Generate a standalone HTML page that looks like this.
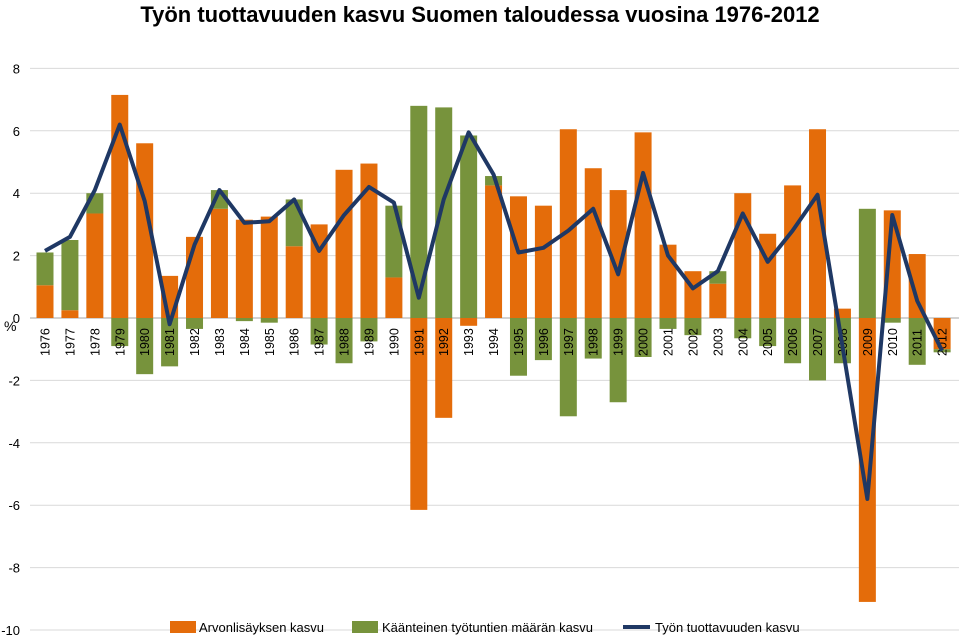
<!DOCTYPE html>
<html><head><meta charset="utf-8"><style>
body{margin:0;background:#fff;width:959px;height:636px;overflow:hidden;font-family:"Liberation Sans",sans-serif}
</style></head><body>
<svg id="c" width="959" height="636" xmlns="http://www.w3.org/2000/svg">
<text x="480" y="22" text-anchor="middle" font-size="22" font-weight="bold" fill="#000">Työn tuottavuuden kasvu Suomen taloudessa vuosina 1976-2012</text>
<g id="grid"></g><g id="bars"></g><g id="lbl"></g><g id="ln"></g>
<text x="4" y="331" font-size="14">%</text>
<g>
<rect x="170" y="621" width="26" height="12" fill="#E46C0A"/>
<text x="199" y="632" font-size="13">Arvonlisäyksen kasvu</text>
<rect x="352" y="621" width="26" height="12" fill="#77933C"/>
<text x="382" y="632" font-size="13">Käänteinen työtuntien määrän kasvu</text>
<line x1="623" y1="627" x2="650" y2="627" stroke="#1F3864" stroke-width="4"/>
<text x="655" y="632" font-size="13">Työn tuottavuuden kasvu</text>
</g>
</svg>
<script>
const years=[1976,1977,1978,1979,1980,1981,1982,1983,1984,1985,1986,1987,1988,1989,1990,1991,1992,1993,1994,1995,1996,1997,1998,1999,2000,2001,2002,2003,2004,2005,2006,2007,2008,2009,2010,2011,2012];
const valueAdded=[1.05,0.25,3.35,7.15,5.6,1.35,2.6,3.5,3.15,3.25,2.3,3.0,4.75,4.95,1.3,-6.15,-3.2,-0.25,4.25,3.9,3.6,6.05,4.8,4.1,5.95,2.35,1.5,1.1,4.0,2.7,4.25,6.05,0.3,-9.1,3.45,2.05,-1.0];
const hours=[1.05,2.25,0.65,-0.9,-1.8,-1.55,-0.35,0.6,-0.1,-0.15,1.5,-0.85,-1.45,-0.75,2.3,6.8,6.75,5.85,0.3,-1.85,-1.35,-3.15,-1.3,-2.7,-1.25,-0.35,-0.55,0.4,-0.65,-0.9,-1.45,-2.0,-1.45,3.5,-0.15,-1.5,-0.1];
const productivity=[2.15,2.6,4.1,6.2,3.75,-0.2,2.35,4.1,3.05,3.1,3.8,2.15,3.3,4.2,3.7,0.65,3.8,5.95,4.6,2.1,2.25,2.8,3.5,1.4,4.65,2.0,0.95,1.5,3.35,1.8,2.8,3.95,-0.9,-5.8,3.3,0.55,-1.05];
const yTicks=[8,6,4,2,0,-2,-4,-6,-8,-10];
const NS="http://www.w3.org/2000/svg";
const y=v=>318-v*31.2;
const x=i=>45+i*24.92;
const bw=17;
function mk(p,t,a){const e=document.createElementNS(NS,t);for(const k in a)e.setAttribute(k,a[k]);document.getElementById(p).appendChild(e);return e;}
yTicks.forEach(t=>{
 const g=mk('grid','line',{x1:30,x2:959,y1:y(t),y2:y(t),stroke:t===0?'#a6a6a6':'#d9d9d9','stroke-width':1});
 
 
 const tx=mk('grid','text',{x:20,y:y(t)+5,'text-anchor':'end','font-size':13});
 tx.textContent=t;
 
 
});
years.forEach((yr,i)=>{
 let pos=0,neg=0;
 [[valueAdded[i],'#E46C0A','bar-value-added'],[hours[i],'#77933C','bar-hours']].forEach(([v,c,n])=>{
  let a,b;
  if(v>=0){a=pos;b=pos+v;pos=b;}else{a=neg;b=neg+v;neg=b;}
  const r=mk('bars','rect',{x:x(i)-bw/2,width:bw,y:Math.min(y(a),y(b)),height:Math.abs(y(a)-y(b)),fill:c});
  
  
 });
 const t=mk('lbl','text',{transform:`translate(${x(i)+4.5},356) rotate(-90)`,'font-size':12.5});
 t.textContent=yr;
 
 
});
const pl=mk('ln','polyline',{points:productivity.map((v,i)=>x(i)+','+y(v)).join(' '),fill:'none',stroke:'#1F3864','stroke-width':4,'stroke-linejoin':'round'});


</script>
</body></html>
